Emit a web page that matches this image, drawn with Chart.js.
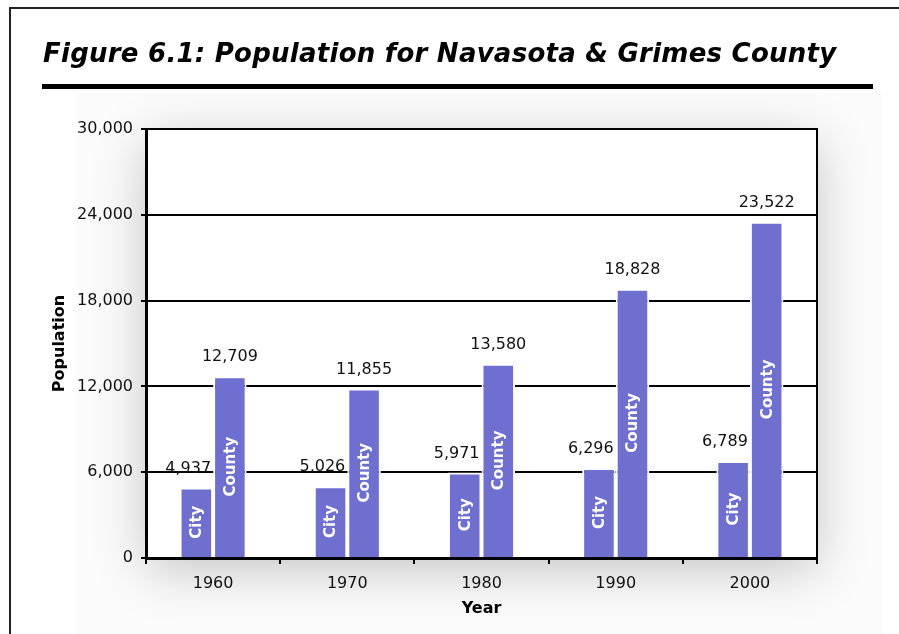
<!DOCTYPE html>
<html>
<head>
<meta charset="utf-8">
<title>Figure 6.1</title>
<script src="https://cdn.jsdelivr.net/npm/chart.js@4.4.1/dist/chart.umd.min.js"></script>
<style>
  html, body { margin: 0; padding: 0; background: #fff; }
  #wrap { position: relative; width: 899px; height: 634px; }
</style>
</head>
<body>
<div id="wrap"><canvas id="popChart" width="899" height="634"></canvas></div>
<script>
// Data
const years = ['1960', '1970', '1980', '1990', '2000'];
const cityPop = [4937, 5026, 5971, 6296, 6789];
const countyPop = [12709, 11855, 13580, 18828, 23522];
const seriesNames = ['City', 'County'];
const yTicks = [0, 6000, 12000, 18000, 24000, 30000];

const titleText = 'Figure 6.1: Population for Navasota & Grimes County';
const barColor = '#6f6fcf';
const family = '"DejaVu Sans", Verdana, sans-serif';

function fmt(v) {
    return v.toLocaleString('en-US');
}

// shared bar styling
function barStyle(label, values) {
    return {
        label: label,
        data: values,
        backgroundColor: barColor,
        borderColor: '#fff',
        borderWidth: 2,
        borderSkipped: 'start',
        categoryPercentage: 0.5,
        barPercentage: 1
    };
}

// Page frame, heading, rule and the soft shade around the plot
const framePlugin = {
    id: 'frame',
    beforeDraw(chart) {
        const ctx = chart.ctx;
        const a = chart.chartArea;
        ctx.save();
        ctx.fillStyle = '#fff';
        ctx.fillRect(0, 0, chart.width, chart.height);

        // outer box (top and left edges are visible)
        ctx.fillStyle = '#222';
        ctx.fillRect(9, 7, chart.width - 9, 2);
        ctx.fillRect(9, 7, 2, chart.height - 7);

        // heading + thick rule
        ctx.fillStyle = '#000';
        ctx.font = 'italic bold 26px ' + family;
        ctx.letterSpacing = '0.25px';
        ctx.textBaseline = 'alphabetic';
        ctx.textAlign = 'left';
        ctx.fillText(titleText, 43, 62);
        ctx.letterSpacing = '0px';
        ctx.fillRect(42, 84, 831, 5);

        // shaded backdrop
        ctx.beginPath();
        ctx.rect(77, 93, 805, chart.height - 93);
        ctx.clip();
        ctx.fillStyle = '#fbfbfb';
        ctx.fillRect(77, 93, 805, chart.height - 93);
        ctx.shadowColor = 'rgba(0,0,0,0.22)';
        ctx.shadowBlur = 50;
        ctx.shadowOffsetY = 12;
        ctx.fillStyle = '#fff';
        ctx.fillRect(a.left, a.top, a.right - a.left, a.bottom - a.top);
        ctx.restore();
    },
    afterDatasetsDraw(chart) {
        const ctx = chart.ctx;
        const a = chart.chartArea;
        ctx.save();

        // right edge of the plot box
        ctx.strokeStyle = '#000';
        ctx.lineWidth = 2;
        ctx.beginPath();
        ctx.moveTo(a.right, a.top - 1);
        ctx.lineTo(a.right, a.bottom);
        ctx.stroke();

        chart.data.datasets.forEach((ds, di) => {
            chart.getDatasetMeta(di).data.forEach((bar, i) => {
                const v = ds.data[i];
                ctx.fillStyle = '#111';
                ctx.font = '16px ' + family;
                ctx.textBaseline = 'middle';
                if (di === 0) {
                    ctx.textAlign = 'right';
                    ctx.fillText(fmt(v), bar.x + bar.width / 2 - 2, bar.y - 19);
                } else {
                    ctx.textAlign = 'center';
                    ctx.fillText(fmt(v), bar.x, bar.y - 19);
                }

                // series name written up the bar
                ctx.save();
                ctx.translate(bar.x + 1, (bar.y + bar.base) / 2);
                ctx.rotate(-Math.PI / 2);
                ctx.fillStyle = '#fff';
                ctx.font = 'bold 15px ' + family;
                ctx.textAlign = 'center';
                ctx.fillText(ds.label, 0, 0);
                ctx.restore();
            });
        });
        ctx.restore();
    }
};

new Chart(document.getElementById('popChart'), {
    type: 'bar',
    data: {
        labels: years,
        datasets: [
            barStyle(seriesNames[0], cityPop),
            barStyle(seriesNames[1], countyPop)
        ]
    },
    options: {
        responsive: false,
        animation: false,
        devicePixelRatio: 1,
        layout: { padding: { top: 129, right: 82, bottom: 10, left: 48 } },
        plugins: {
            legend: { display: false },
            tooltip: { enabled: false },
            colors: { enabled: false }
        },
        scales: {
            x: {
                grid: { offset: true, drawOnChartArea: false, drawTicks: true, tickLength: 6, color: '#000', lineWidth: 2 },
                border: { display: true, color: '#000', width: 3 },
                ticks: { font: { family: family, size: 16 }, color: '#111', padding: 10 },
                title: {
                    display: true,
                    text: 'Year',
                    color: '#000',
                    font: { family: family, size: 16, weight: 'bold' },
                    padding: { top: 4, bottom: 6 }
                },
                afterFit(scale) { scale.height = 66; }
            },
            y: {
                min: 0,
                max: 30000,
                afterBuildTicks(scale) { scale.ticks = yTicks.map(v => ({ value: v })); },
                ticks: { font: { family: family, size: 16 }, color: '#111', padding: 8, callback: v => fmt(v) },
                grid: { color: '#000', lineWidth: 2, tickLength: 5 },
                border: { color: '#000', width: 3 },
                title: {
                    display: true,
                    text: 'Population',
                    color: '#000',
                    font: { family: family, size: 16, weight: 'bold' },
                    padding: { top: 2, bottom: 0 }
                },
                afterFit(scale) { scale.width = 98; }
            }
        }
    },
    plugins: [framePlugin]
});
</script>
</body>
</html>
